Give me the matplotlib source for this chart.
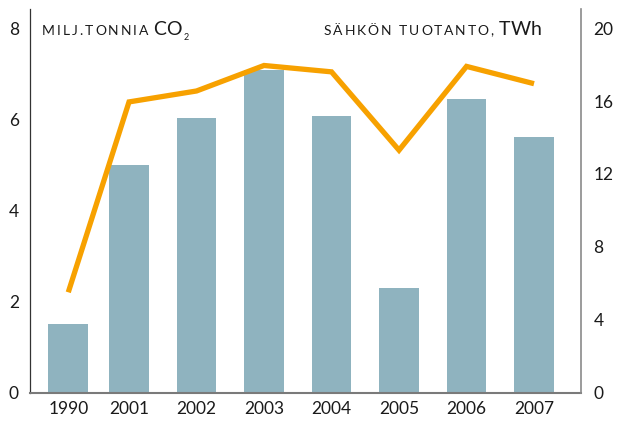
import matplotlib.pyplot as plt
import numpy as np

plt.rcParams['font.family'] = ['Lato', 'DejaVu Sans']

# data
years = ['1990', '2001', '2002', '2003', '2004', '2005', '2006', '2007']
co2_mt = [1.50, 4.99, 6.02, 7.09, 6.06, 2.29, 6.44, 5.60]       # left axis, milj. tonnia CO2
power_twh = [5.5, 15.95, 16.55, 17.95, 17.6, 13.3, 17.9, 16.95]  # right axis, TWh

# 1990 sits a bit closer to 2001 than the yearly gaps
xpos = np.array([0.1, 1, 2, 3, 4, 5, 6, 7])

bar_color = '#8fb3bf'
line_color = '#f7a100'
text_color = '#1a1a1a'

fig = plt.figure(figsize=(6.17, 4.24), dpi=100)
W, H = 617, 424
ax = fig.add_axes([30 / W, (H - 392.5) / H, (581 - 30) / W, (392.5 - 9) / H])

ax.bar(xpos, co2_mt, width=0.59, color=bar_color, zorder=2)
ax.set_xlim(-0.467, 7.696)
ax.set_ylim(0, 8.42)
ax.set_yticks([0, 2, 4, 6, 8])
ax.set_xticks(xpos)
ax.set_xticklabels(years)

ax2 = ax.twinx()
ax2.plot(xpos, power_twh, color=line_color, lw=3.8, solid_joinstyle='miter',
         solid_capstyle='butt', zorder=3)
ax2.set_ylim(0, 8.42 * 20 / 8)
ax2.set_yticks([0, 4, 8, 12, 16, 20])

for a in (ax, ax2):
    a.spines['top'].set_visible(False)
    a.tick_params(length=0, labelsize=12.5, colors=text_color)
ax.tick_params(axis='x', pad=6)
ax.tick_params(axis='y', pad=8)
ax2.tick_params(axis='y', pad=9)
ax.spines['left'].set_color('#333333')
ax.spines['left'].set_linewidth(0.9)
ax.spines['right'].set_visible(False)
ax.spines['bottom'].set_color('#7a7a7a')
ax.spines['bottom'].set_linewidth(1.5)
ax2.spines['left'].set_visible(False)
ax2.spines['bottom'].set_visible(False)
ax2.spines['right'].set_color('#8a8a8a')
ax2.spines['right'].set_linewidth(1.2)

renderer = fig.canvas.get_renderer()


def tracked(x, y, s, size, track):
    """Write s letter by letter from pixel x, baseline y, with extra spacing."""
    for ch in s:
        if ch == ' ':
            x += size * 0.45 + track
            continue
        t = fig.text(x / W, 1 - y / H, ch, fontsize=size, color=text_color,
                     va='baseline')
        x += t.get_window_extent(renderer).width + track
    return x


# axis titles: small caps imitation
x = tracked(42, 35, 'MILJ.TONNIA', 10, 2.0)
x = tracked(x + 3, 35, 'CO', 14, 0.5)
tracked(x + 1, 40, '2', 6.5, 0)

x = tracked(324, 35, 'SÄHKÖN TUOTANTO,', 10, 1.8)
tracked(x + 4, 35, 'TWh', 14, 0)

fig.savefig('out.png', dpi=100)
